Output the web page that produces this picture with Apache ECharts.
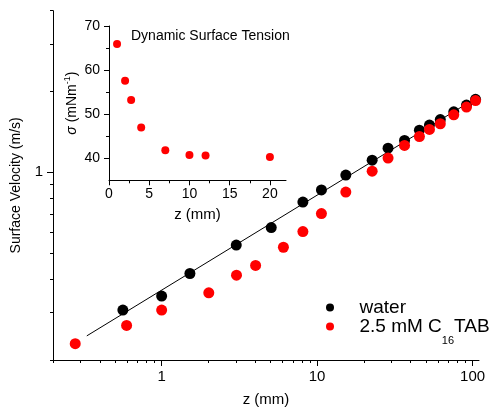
<!DOCTYPE html>
<html><head><meta charset="utf-8">
<script src="https://cdn.jsdelivr.net/npm/echarts@6/dist/echarts.min.js"></script>
<style>html,body{margin:0;padding:0;background:#fff}#c{width:494px;height:412px}</style>
</head><body><div id="c"></div>
<script>
const waterZ = [0.563, 1, 1.52, 3.02, 5.07, 8.1, 10.66, 15.3, 22.6, 28.6, 36.5, 45.5, 52.8, 62, 75.7, 91.4, 104.5];
const waterV = [0.307, 0.346, 0.420, 0.536, 0.623, 0.775, 0.860, 0.977, 1.11, 1.23, 1.315, 1.436, 1.50, 1.573, 1.68, 1.78, 1.87];
const ctabZ = [0.278, 0.595, 1, 2.01, 3.03, 4.02, 6.07, 8.1, 10.66, 15.3, 22.6, 28.6, 36.5, 45.5, 52.8, 62, 75.7, 91.4, 104.5];
const ctabV = [0.230, 0.269, 0.307, 0.356, 0.414, 0.450, 0.526, 0.602, 0.702, 0.844, 1.01, 1.13, 1.26, 1.36, 1.445, 1.517, 1.637, 1.75, 1.85];
const fitZ = [0.33, 110];
const fitV = [0.246, 1.92];
const tensionZ = [1, 2, 2.75, 4, 7, 10, 12, 20];
const tensionSigma = [65.9, 57.6, 53.2, 47.0, 41.8, 40.75, 40.6, 40.3];
const xMajor = [1, 10, 100];
const xMinor = [0.2, 0.3, 0.4, 0.5, 0.6, 0.7, 0.8, 0.9, 2, 3, 4, 5, 6, 7, 8, 9, 20, 30, 40, 50, 60, 70, 80, 90];
const yMajor = [1];
const yMinor = [0.2, 0.3, 0.4, 0.5, 0.6, 0.7, 0.8, 0.9, 2, 3, 4];
const insetXMajor = [0, 5, 10, 15, 20];
const insetXMinor = [2.5, 7.5, 12.5, 17.5];
const insetYMajor = [40, 50, 60, 70];
const insetYMinor = [45, 55, 65];

const FONT = 'Arial, "Liberation Sans", sans-serif';
const zip = (a, b) => a.map((v, i) => [v, b[i]]);
const axLine = {show: true, lineStyle: {color: '#000', width: 1}};

const chart = echarts.init(document.getElementById('c'), null, {renderer: 'canvas'});
chart.setOption({
  animation: false,
  textStyle: {fontFamily: FONT, color: '#000'},
  title: {text: 'Dynamic Surface Tension', left: 131, top: 29, padding: 0,
    textStyle: {fontSize: 14, fontWeight: 'normal', color: '#000', fontFamily: FONT}},
  legend: {
    orient: 'vertical', left: 321, top: 293, itemWidth: 49, itemHeight: 8, itemGap: 0,
    data: [{name: 'water', icon: 'circle'}, {name: 'ctab', icon: 'circle'}],
    formatter: n => n === 'water' ? 'water' : '2.5 mM C{sub|16}TAB',
    textStyle: {fontSize: 19, color: '#000', fontFamily: FONT,
      rich: {sub: {fontSize: 11, padding: [28, 0, 0, 0], fontFamily: FONT, color: '#000'}}}
  },
  grid: [
    {left: 53, right: 15, top: 10.7, bottom: 49.5},
    {left: 109, top: 26, width: 177, height: 154.3}
  ],
  xAxis: [
    {type: 'log', gridIndex: 0, position: 'bottom', min: 0.2, max: 110, logBase: 10, axisLine: axLine,
      axisTick: {show: true, customValues: xMajor, length: 6, lineStyle: {color: '#000'}},
      axisLabel: {customValues: xMajor, fontSize: 15, color: '#000', margin: 9, fontFamily: FONT},
      splitLine: {show: false}, minorTick: {show: false},
      name: 'z (mm)', nameLocation: 'middle', nameGap: 32,
      nameTextStyle: {fontSize: 15, color: '#000', fontFamily: FONT}},
    {type: 'log', gridIndex: 0, position: 'bottom', min: 0.2, max: 110, logBase: 10, axisLine: {show: false},
      axisTick: {show: true, customValues: xMinor, length: 3, lineStyle: {color: '#000'}},
      axisLabel: {show: false}, splitLine: {show: false}},
    {type: 'value', gridIndex: 1, position: 'bottom', min: 0, max: 22, axisLine: axLine,
      axisTick: {show: true, customValues: insetXMajor, length: 5, lineStyle: {color: '#000'}},
      axisLabel: {customValues: insetXMajor, fontSize: 14, color: '#000', margin: 7, fontFamily: FONT},
      splitLine: {show: false},
      name: 'z (mm)', nameLocation: 'middle', nameGap: 27,
      nameTextStyle: {fontSize: 15, color: '#000', fontFamily: FONT}},
    {type: 'value', gridIndex: 1, position: 'bottom', min: 0, max: 22, axisLine: {show: false},
      axisTick: {show: true, customValues: insetXMinor, length: 3, lineStyle: {color: '#000'}},
      axisLabel: {show: false}, splitLine: {show: false}}
  ],
  yAxis: [
    {type: 'log', gridIndex: 0, position: 'left', min: 0.2, max: 4, logBase: 10, axisLine: axLine,
      axisTick: {show: true, customValues: yMajor, length: 6, lineStyle: {color: '#000'}},
      axisLabel: {customValues: yMajor, fontSize: 15, color: '#000', margin: 10, fontFamily: FONT},
      splitLine: {show: false},
      name: 'Surface Velocity (m/s)', nameLocation: 'middle', nameGap: 30,
      nameTextStyle: {fontSize: 14, color: '#000', fontFamily: FONT}},
    {type: 'log', gridIndex: 0, position: 'left', min: 0.2, max: 4, logBase: 10, axisLine: {show: false},
      axisTick: {show: true, customValues: yMinor, length: 3, lineStyle: {color: '#000'}},
      axisLabel: {show: false}, splitLine: {show: false}},
    {type: 'value', gridIndex: 1, position: 'left', min: 35, max: 70, axisLine: axLine,
      axisTick: {show: true, customValues: insetYMajor, length: 5, lineStyle: {color: '#000'}},
      axisLabel: {customValues: insetYMajor, fontSize: 14, color: '#000', margin: 9, fontFamily: FONT},
      splitLine: {show: false},
      name: '{i|σ} (mNm{sup|-1})', nameLocation: 'middle', nameGap: 27,
      nameTextStyle: {fontSize: 14, color: '#000', fontFamily: FONT,
        rich: {i: {fontStyle: 'italic', fontSize: 14, fontFamily: FONT},
               sup: {fontSize: 9, padding: [0, 0, 10, 0], fontFamily: FONT}}}},
    {type: 'value', gridIndex: 1, position: 'left', min: 35, max: 70, axisLine: {show: false},
      axisTick: {show: true, customValues: insetYMinor, length: 3, lineStyle: {color: '#000'}},
      axisLabel: {show: false}, splitLine: {show: false}}
  ],
  series: [
    {name: 'fit', type: 'line', xAxisIndex: 0, yAxisIndex: 0, data: zip(fitZ, fitV),
      showSymbol: false, symbol: 'none', lineStyle: {color: '#000', width: 1}, z: 1, silent: true},
    {name: 'water', type: 'scatter', xAxisIndex: 0, yAxisIndex: 0, data: zip(waterZ, waterV),
      symbol: 'circle', symbolSize: 11, itemStyle: {color: '#000', opacity: 1}, z: 2},
    {name: 'ctab', type: 'scatter', xAxisIndex: 0, yAxisIndex: 0, data: zip(ctabZ, ctabV),
      symbol: 'circle', symbolSize: 11, itemStyle: {color: '#ff0000', opacity: 1}, z: 3},
    {name: 'tension', type: 'scatter', xAxisIndex: 2, yAxisIndex: 2, data: zip(tensionZ, tensionSigma),
      symbol: 'circle', symbolSize: 8, itemStyle: {color: '#ff0000', opacity: 1}, z: 3}
  ]
});
</script></body></html>
